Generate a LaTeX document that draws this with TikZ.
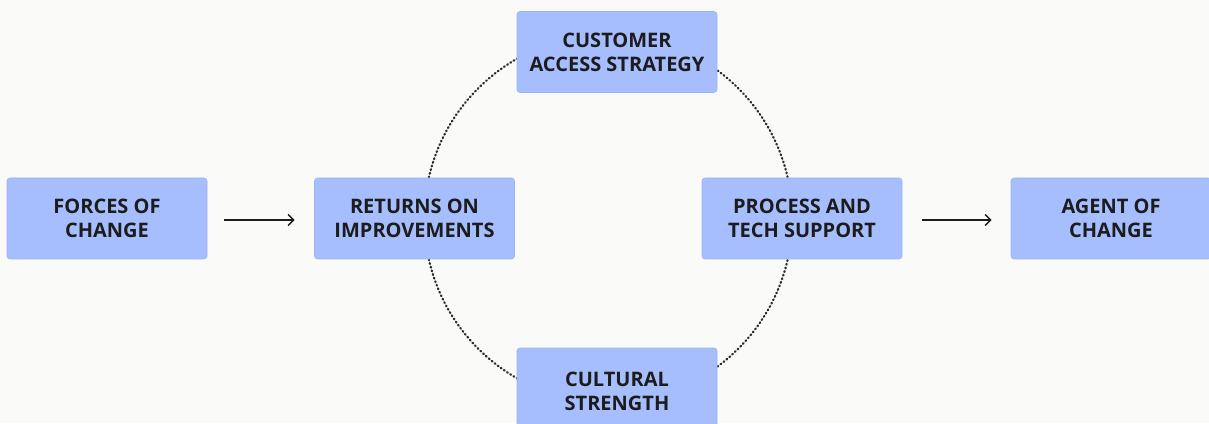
\documentclass[tikz,border=0pt]{standalone}
\usepackage{fontspec}
\setmainfont{Open Sans}
\usetikzlibrary{arrows.meta,calc}
\definecolor{canvas}{HTML}{FAFAF8}
\definecolor{boxfill}{HTML}{A6BEFD}
\definecolor{boxedge}{HTML}{9CB4F2}
\definecolor{ink}{HTML}{1C1C1C}
\definecolor{ringink}{HTML}{2C2C30}
\begin{document}
\begin{tikzpicture}[x=1pt,y=1pt,
  stagebox/.style={draw=boxedge, line width=0.6pt, fill=boxfill, rounded corners=3pt,
    minimum width=200pt, minimum height=81pt, inner sep=0pt, align=center,
    text=ink, font=\bfseries\fontsize{20}{24}\selectfont},
  flow/.style={draw=ink, line width=1.4pt, -{Straight Barb[length=5.5pt,width=11pt]}},
  ring/.style={draw=ringink, line width=2.2pt, line cap=round, dash pattern=on 0.9pt off 2.9pt}]
\clip (0,0) rectangle (1209,423);
\fill[canvas] (0,0) rectangle (1209,423);

% outer stages
\node[stagebox] (forces)  at (107,204.5)  {FORCES OF\\CHANGE};
\node[stagebox] (agent)   at (1111,204.5) {AGENT OF\\CHANGE};

% ring of the four inner stages
\coordinate (hub) at (608.25,204.5);
\draw[ring] (hub) circle[radius=184];

\node[stagebox] (returns)  at (414.5,204.5) {RETURNS ON\\IMPROVEMENTS};
\node[stagebox] (process)  at (802,204.5)   {PROCESS AND\\TECH SUPPORT};
\node[stagebox] (customer) at (617,371)     {CUSTOMER\\ACCESS STRATEGY};
\node[stagebox, minimum height=87pt] (cultural) at (617,31.5) {CULTURAL\\STRENGTH};

% flow in and out of the ring
\draw[flow] ([xshift=17pt,yshift=-1.5pt]forces.east) -- ([xshift=-19.5pt,yshift=-1.5pt]returns.west);
\draw[flow] ([xshift=20pt,yshift=-1.5pt]process.east) -- ([xshift=-19pt,yshift=-1.5pt]agent.west);
\end{tikzpicture}
\end{document}
